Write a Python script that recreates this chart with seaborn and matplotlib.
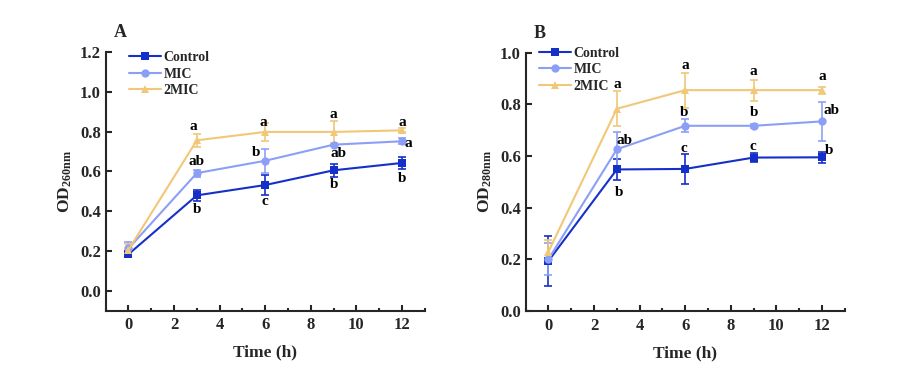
import numpy as np
import pandas as pd
import seaborn as sns
import matplotlib.pyplot as plt
from matplotlib.ticker import MultipleLocator

# time points (h)
time = [0, 3, 6, 9, 12]
groups = ['Control', 'MIC', '2MIC']

# Panel A: OD260nm means and SD
od260_control = [0.183, 0.479, 0.531, 0.605, 0.642]
od260_mic = [0.212, 0.591, 0.653, 0.734, 0.751]
od260_2mic = [0.205, 0.756, 0.798, 0.798, 0.806]
sd260_control = [0.010, 0.026, 0.050, 0.034, 0.029]
sd260_mic = [0.030, 0.018, 0.059, 0.005, 0.015]
sd260_2mic = [0.030, 0.034, 0.047, 0.056, 0.010]

# Panel B: OD280nm means and SD
od280_control = [0.194, 0.548, 0.550, 0.594, 0.595]
od280_mic = [0.201, 0.626, 0.717, 0.717, 0.734]
od280_2mic = [0.230, 0.783, 0.855, 0.855, 0.855]
sd280_control = [0.097, 0.039, 0.058, 0.019, 0.021]
sd280_mic = [0.062, 0.068, 0.025, 0.008, 0.076]
sd280_2mic = [0.046, 0.068, 0.068, 0.041, 0.014]

# significance letters
letters260 = {
    'Control': ['', 'b', 'c', 'b', 'b'],
    'MIC': ['', 'ab', 'b', 'ab', 'a'],
    '2MIC': ['', 'a', 'a', 'a', 'a'],
}
letters280 = {
    'Control': ['', 'b', 'c', 'c', 'b'],
    'MIC': ['', 'ab', 'b', 'b', 'ab'],
    '2MIC': ['', 'a', 'a', 'a', 'a'],
}
# letter positions (x, y) in data units
pos260 = {
    'Control': [None, (3.0, 0.407), (6.0, 0.448), (9.0, 0.532), (12.0, 0.563)],
    'MIC': [None, (3.0, 0.650), (5.61, 0.695), (9.23, 0.692), (12.3, 0.742)],
    '2MIC': [None, (2.84, 0.823), (5.9, 0.846), (9.0, 0.885), (12.0, 0.843)],
}
pos280 = {
    'Control': [None, (3.1, 0.458), (5.95, 0.630), (8.98, 0.636), (12.32, 0.623)],
    'MIC': [None, (3.32, 0.662), (5.95, 0.768), (9.0, 0.768), (12.44, 0.775)],
    '2MIC': [None, (3.0, 0.877), (6.0, 0.952), (9.0, 0.926), (12.0, 0.907)],
}

palette = {'Control': '#1530c8', 'MIC': '#8c9ff7', '2MIC': '#f0c878'}
markers = {'Control': 's', 'MIC': 'o', '2MIC': '^'}

sns.set_style('ticks')
plt.rcParams['font.family'] = ['Liberation Serif', 'DejaVu Serif']
plt.rcParams['font.weight'] = 'bold'
plt.rcParams['mathtext.fontset'] = 'custom'
plt.rcParams['mathtext.rm'] = 'Liberation Serif:bold'
plt.rcParams['mathtext.it'] = 'Liberation Serif:bold'
plt.rcParams['mathtext.bf'] = 'Liberation Serif:bold'


def long_df(means, sds):
    rows = []
    for g, m, s in zip(groups, means, sds):
        for t, v, e in zip(time, m, s):
            rows.append({'time': t, 'od': v, 'sd': e, 'group': g})
    return pd.DataFrame(rows)


df260 = long_df([od260_control, od260_mic, od260_2mic],
                [sd260_control, sd260_mic, sd260_2mic])
df280 = long_df([od280_control, od280_mic, od280_2mic],
                [sd280_control, sd280_mic, sd280_2mic])

fig = plt.figure(figsize=(9.01, 3.83), dpi=100)
axA = fig.add_axes([105.7 / 901, 1 - 310.5 / 383, 319 / 901, 258.5 / 383])
axB = fig.add_axes([525.7 / 901, 1 - 311 / 383, 319 / 901, 258.3 / 383])


def draw(ax, df, letters, pos, ylim, yticks, ylabel, tag, leg_anchor):
    for g in groups:
        d = df[df.group == g]
        ax.errorbar(d.time, d.od, yerr=d.sd, fmt='none', ecolor=palette[g],
                    elinewidth=1.2, capsize=3, capthick=1.2, zorder=2)
    sns.lineplot(data=df, x='time', y='od', hue='group', style='group',
                 palette=palette, markers=markers, dashes=False,
                 markersize=6, markeredgewidth=0, linewidth=1.5,
                 errorbar=None, ax=ax, zorder=3)
    for g in groups:
        for lab, p in zip(letters[g], pos[g]):
            if lab:
                ax.text(p[0], p[1], lab, ha='center', va='center',
                        fontsize=11, fontweight='bold', color='black')
    ax.set_xlim(-1, 13)
    ax.set_ylim(*ylim)
    ax.set_xticks([0, 2, 4, 6, 8, 10, 12])
    ax.xaxis.set_minor_locator(MultipleLocator(1))
    ax.set_yticks(yticks)
    ax.set_yticklabels([f'{v:.1f}' for v in yticks])
    ax.tick_params(axis='both', which='major', direction='in', length=4,
                   width=1.5, labelsize=12)
    ax.tick_params(axis='x', which='minor', direction='in', length=2, width=1.5)
    ax.tick_params(axis='x', pad=5)
    for s in ['left', 'bottom']:
        ax.spines[s].set_linewidth(1.5)
    sns.despine(ax=ax)
    ax.set_xlabel('Time (h)', fontsize=12.5, fontweight='bold', labelpad=8)
    ax.set_ylabel(ylabel, fontsize=12.5, fontweight='bold', labelpad=4)
    ax.text(0.045, 1.075, tag, transform=ax.transAxes, fontsize=13,
            fontweight='bold', ha='center', va='center')
    handles, labels = ax.get_legend_handles_labels()
    ax.legend(handles, labels, loc='upper left', frameon=False,
              bbox_to_anchor=leg_anchor, borderpad=0, handlelength=2.3,
              handletextpad=0.2, labelspacing=0.25,
              prop={'family': 'Liberation Serif', 'weight': 'bold', 'size': 10})


draw(axA, df260, letters260, pos260, (-0.1, 1.2),
     [0.0, 0.2, 0.4, 0.6, 0.8, 1.0, 1.2], 'OD$_{260nm}$', 'A', (0.05, 1.03))
draw(axB, df280, letters280, pos280, (0.0, 1.0),
     [0.0, 0.2, 0.4, 0.6, 0.8, 1.0], 'OD$_{280nm}$', 'B', (0.02, 1.05))

fig.savefig('out.png', dpi=100)
